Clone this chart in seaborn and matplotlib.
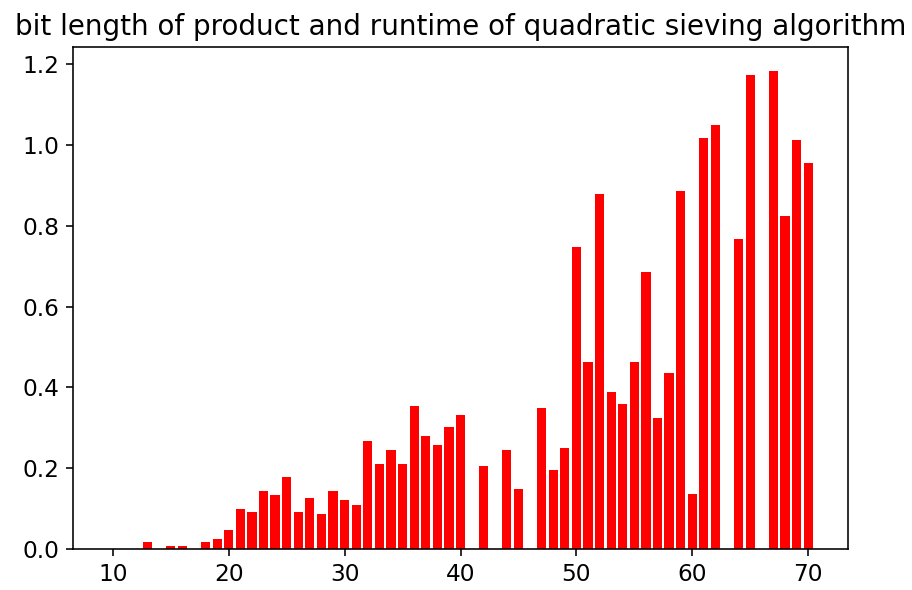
import matplotlib
matplotlib.use('Agg')
import matplotlib.pyplot as plt
import seaborn as sns

# bit length of the product (10..70)
bit_length = list(range(10, 71))

# runtime in seconds
runtime = [
    0.0, 0.0, 0.0, 0.018, 0.0, 0.007, 0.007, 0.0, 0.018, 0.024,           # 10-19
    0.047, 0.099, 0.092, 0.144, 0.133, 0.178, 0.092, 0.127, 0.086, 0.144,  # 20-29
    0.122, 0.109, 0.267, 0.211, 0.245, 0.211, 0.354, 0.280, 0.257, 0.302,  # 30-39
    0.332, 0.0, 0.205, 0.0, 0.245, 0.148, 0.0, 0.348, 0.195, 0.251,        # 40-49
    0.748, 0.463, 0.880, 0.388, 0.360, 0.463, 0.686, 0.325, 0.435, 0.886,  # 50-59
    0.137, 1.018, 1.051, 0.0, 0.768, 1.173, 0.0, 1.184, 0.825, 1.013,      # 60-69
    0.957,                                                                 # 70
]

plt.rcParams['font.size'] = 11.6

fig = plt.figure(figsize=(912 / 144, 590 / 144), dpi=144)
ax = fig.add_axes([73 / 912, 41 / 590, 775 / 912, 502 / 590])

sns.barplot(x=bit_length, y=runtime, native_scale=True, color='red',
            saturation=1, width=0.8, ax=ax)

ax.set_title('bit length of product and runtime of quadratic sieving algorithm', fontsize=13.9)
ax.set_xlim(6.56, 73.44)
ax.set_ylim(0, 1.243)
ax.set_xticks([10, 20, 30, 40, 50, 60, 70])
ax.set_yticks([0.0, 0.2, 0.4, 0.6, 0.8, 1.0, 1.2])

fig.savefig('out.png', dpi=144)
